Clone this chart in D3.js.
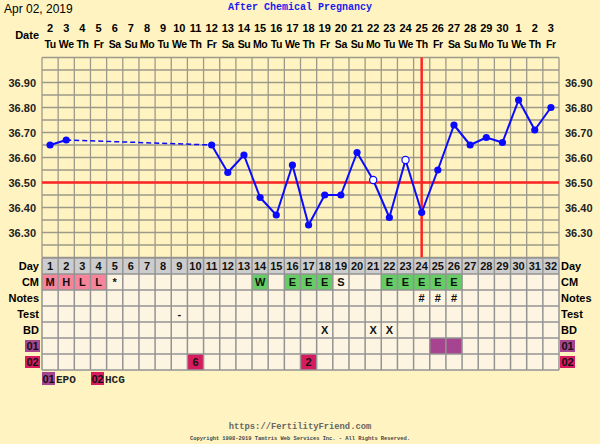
<!DOCTYPE html>
<html>
<head>
<meta charset="utf-8">
<script src="https://cdn.jsdelivr.net/npm/d3@7"></script>
<style>
  html, body { margin: 0; padding: 0; background: #fff4c1; }
  svg { display: block; }
</style>
</head>
<body>
<div id="chart"></div>
<script>
// chart values
const chartDate = "Apr 02, 2019";
const chartTitle = "After Chemical Pregnancy";
const cycleDays = d3.range(1, 33);
const dates = [2,3,4,5,6,7,8,9,10,11,12,13,14,15,16,17,18,19,20,21,22,23,24,25,26,27,28,29,30,1,2,3];
const weekdays = ["Tu","We","Th","Fr","Sa","Su","Mo","Tu","We","Th","Fr","Sa","Su","Mo","Tu","We","Th","Fr","Sa","Su","Mo","Tu","We","Th","Fr","Sa","Su","Mo","Tu","We","Th","Fr"];
const temps = [36.65,36.67,null,null,null,null,null,null,null,null,
               36.65,36.54,36.61,36.44,36.37,36.57,36.33,36.45,36.45,36.62,
               36.51,36.36,36.59,36.38,36.55,36.73,36.65,36.68,36.66,36.83,36.71,36.80];
const openDays = [21, 23];
const yTicks = [36.30,36.40,36.50,36.60,36.70,36.80,36.90];
const coverline = 36.50;
const ovulationDay = 24;

const rowNames = ["Day","CM","Notes","Test","BD","01","02"];
const cmMarks = [
  {day:1,text:"M",kind:"fertile"},{day:2,text:"H",kind:"fertile"},{day:3,text:"L",kind:"fertile"},{day:4,text:"L",kind:"fertile"},
  {day:5,text:"*",kind:""},{day:14,text:"W",kind:"egg"},{day:16,text:"E",kind:"egg"},{day:17,text:"E",kind:"egg"},
  {day:18,text:"E",kind:"egg"},{day:19,text:"S",kind:""},{day:22,text:"E",kind:"egg"},{day:23,text:"E",kind:"egg"},
  {day:24,text:"E",kind:"egg"},{day:25,text:"E",kind:"egg"},{day:26,text:"E",kind:"egg"}
];
const noteMarks = [{day:24,text:"#"},{day:25,text:"#"},{day:26,text:"#"}];
const testMarks = [{day:9,text:"-"}];
const bdMarks = [{day:18,text:"X"},{day:21,text:"X"},{day:22,text:"X"}];
const med01Marks = [{day:25,text:""},{day:26,text:""}];
const med02Marks = [{day:10,text:"6"},{day:17,text:"2"}];
const legendItems = [{code:"01",name:"EPO"},{code:"02",name:"HCG"}];
const siteUrl = "https://FertilityFriend.com";
const copyright = "Copyright 1998-2019 Tamtris Web Services Inc. - All Rights Reserved.";

(() => {
  const width = 600, height = 444;
  const left = 42, right = 559, top = 57.5, bottom = 257.5;
  const sans = "'Liberation Sans', Arial, sans-serif";
  const mono = "'Liberation Mono', 'Courier New', monospace";
  const kindColor = { fertile: "#f7849b", egg: "#66cc66", m01: "#a6448f", m02: "#d81b5f" };

  const svg = d3.select("#chart").append("svg")
    .attr("width", width).attr("height", height);

  const x = d3.scaleBand().domain(cycleDays).range([left, right]);
  const y = d3.scaleLinear().domain([36.2, 37.0]).range([bottom, top]);
  const cx = d => x(d) + x.bandwidth() / 2;

  // header
  svg.append("text").attr("x", 4).attr("y", 13)
    .style("font", `12px ${sans}`).text(chartDate);
  svg.append("text").attr("x", 300).attr("y", 10).attr("text-anchor", "middle")
    .style("font", `bold 10px ${mono}`).attr("fill", "#1a1aee").text(chartTitle);

  svg.append("text").attr("x", 39).attr("y", 39).attr("text-anchor", "end")
    .style("font", `bold 11px ${sans}`).text("Date");
  svg.append("g").selectAll("text").data(cycleDays).join("text")
    .attr("x", cx).attr("y", 32).attr("text-anchor", "middle")
    .style("font", `bold 11px ${sans}`).text((d, i) => dates[i]);
  svg.append("g").selectAll("text").data(cycleDays).join("text")
    .attr("x", cx).attr("y", 48).attr("text-anchor", "middle")
    .style("font", `bold 10.5px ${sans}`).style("letter-spacing", "-0.4px")
    .text((d, i) => weekdays[i]);

  // temperature grid
  const grid = svg.append("g").attr("stroke", "#9d998a").attr("stroke-width", 1.3);
  grid.selectAll("line.v").data(d3.range(0, 33)).join("line")
    .attr("x1", i => left + i * x.bandwidth()).attr("x2", i => left + i * x.bandwidth())
    .attr("y1", top).attr("y2", bottom);
  grid.selectAll("line.h").data(d3.range(36.2, 37.001, 0.05)).join("line")
    .attr("x1", left).attr("x2", right).attr("y1", d => y(d)).attr("y2", d => y(d));

  const tickFmt = d3.format(".2f");
  svg.append("g").attr("transform", `translate(${left - 3},0)`)
    .call(d3.axisLeft(y).tickValues(yTicks).tickFormat(tickFmt).tickSize(0))
    .call(g => g.select(".domain").remove())
    .selectAll("text").style("font", `bold 11px ${sans}`).attr("fill", "#222");
  svg.append("g").attr("transform", `translate(${right + 3},0)`)
    .call(d3.axisRight(y).tickValues(yTicks).tickFormat(tickFmt).tickSize(0))
    .call(g => g.select(".domain").remove())
    .selectAll("text").style("font", `bold 11px ${sans}`).attr("fill", "#222");

  // coverline and ovulation
  svg.append("line").attr("x1", left).attr("x2", right)
    .attr("y1", y(coverline)).attr("y2", y(coverline))
    .attr("stroke", "#ff2424").attr("stroke-width", 2.5);
  svg.append("line").attr("x1", cx(ovulationDay)).attr("x2", cx(ovulationDay))
    .attr("y1", top).attr("y2", bottom)
    .attr("stroke", "#ff2424").attr("stroke-width", 2.5);

  // temperature line
  const pts = cycleDays.map((d, i) => ({ day: d, temp: temps[i] })).filter(d => d.temp != null);
  const segs = d3.pairs(pts);
  svg.append("g").selectAll("line").data(segs).join("line")
    .attr("x1", d => cx(d[0].day)).attr("y1", d => y(d[0].temp))
    .attr("x2", d => cx(d[1].day)).attr("y2", d => y(d[1].temp))
    .attr("stroke", "#0a0aff").attr("stroke-width", d => d[1].day - d[0].day > 1 ? 1.5 : 2)
    .attr("stroke-dasharray", d => d[1].day - d[0].day > 1 ? "5,3" : null);
  svg.append("g").selectAll("circle").data(pts).join("circle")
    .attr("cx", d => cx(d.day)).attr("cy", d => y(d.temp)).attr("r", 3.6)
    .attr("fill", d => openDays.includes(d.day) ? "#fff" : "#0a0aff")
    .attr("stroke", "#0a0aff").attr("stroke-width", d => openDays.includes(d.day) ? 1.2 : 0);

  // table
  const row = d3.scaleBand().domain(rowNames).range([258, 370]);
  const tbl = svg.append("g");
  rowNames.forEach(r => {
    tbl.append("g").selectAll("rect").data(cycleDays).join("rect")
      .attr("x", d => x(d)).attr("y", row(r))
      .attr("width", x.bandwidth()).attr("height", row.bandwidth())
      .attr("fill", r === "Day" ? "#cdcdcd" : "#fdf5e1");
  });

  const cellRows = [
    { r: "CM", marks: cmMarks },
    { r: "Notes", marks: noteMarks },
    { r: "Test", marks: testMarks },
    { r: "BD", marks: bdMarks },
    { r: "01", marks: med01Marks.map(m => ({ ...m, kind: "m01" })) },
    { r: "02", marks: med02Marks.map(m => ({ ...m, kind: "m02" })) }
  ];
  cellRows.forEach(({ r, marks }) => {
    tbl.append("g").selectAll("rect").data(marks.filter(m => m.kind)).join("rect")
      .attr("x", d => x(d.day)).attr("y", row(r))
      .attr("width", x.bandwidth()).attr("height", row.bandwidth())
      .attr("fill", d => kindColor[d.kind]);
    tbl.append("g").selectAll("text").data(marks).join("text")
      .attr("x", d => cx(d.day)).attr("y", row(r) + row.bandwidth() / 2 + 4)
      .attr("text-anchor", "middle")
      .style("font", `bold 11px ${sans}`).attr("fill", "#111")
      .text(d => d.text);
  });

  tbl.append("g").selectAll("text").data(cycleDays).join("text")
    .attr("x", cx).attr("y", row("Day") + row.bandwidth() / 2 + 4).attr("text-anchor", "middle")
    .style("font", `bold 11px ${sans}`).attr("fill", "#111").text(d => d);

  const tgrid = tbl.append("g").attr("stroke", "#939393").attr("stroke-width", 1.5);
  tgrid.selectAll("line.v").data(d3.range(0, 33)).join("line")
    .attr("x1", i => left + i * x.bandwidth()).attr("x2", i => left + i * x.bandwidth())
    .attr("y1", 258).attr("y2", 370);
  tgrid.selectAll("line.h").data(d3.range(0, 8)).join("line")
    .attr("x1", left).attr("x2", right)
    .attr("y1", i => 258 + i * row.bandwidth()).attr("y2", i => 258 + i * row.bandwidth());

  // row labels both sides
  const badge = (g, code, bx, by, w, h) => {
    g.append("rect").attr("x", bx).attr("y", by).attr("width", w).attr("height", h)
      .attr("fill", code === "01" ? kindColor.m01 : kindColor.m02);
    g.append("text").attr("x", bx + w / 2).attr("y", by + h / 2 + 4).attr("text-anchor", "middle")
      .style("font", `bold 11px ${sans}`).attr("fill", "#111").text(code);
  };
  rowNames.forEach(r => {
    const cy = row(r) + row.bandwidth() / 2;
    if (r === "01" || r === "02") {
      badge(svg, r, 25, cy - 6, 15, 12);
      badge(svg, r, 560, cy - 6, 15, 12);
    } else {
      svg.append("text").attr("x", 39).attr("y", cy + 4).attr("text-anchor", "end")
        .style("font", `bold 11px ${sans}`).text(r);
      svg.append("text").attr("x", 561).attr("y", cy + 4)
        .style("font", `bold 11px ${sans}`).text(r);
    }
  });

  // legend
  legendItems.forEach((it, i) => {
    const lx = 42 + i * 49;
    badge(svg, it.code, lx, 372, 13, 13);
    svg.append("text").attr("x", lx + 14).attr("y", 383)
      .style("font", `bold 11px ${mono}`).attr("fill", "#222").text(it.name);
  });

  // footer
  svg.append("text").attr("x", 300).attr("y", 429).attr("text-anchor", "middle")
    .style("font", `bold 8.8px ${mono}`).attr("fill", "#666").text(siteUrl);
  svg.append("text").attr("x", 300).attr("y", 440).attr("text-anchor", "middle")
    .style("font", `bold 5.4px ${mono}`).attr("fill", "#444").text(copyright);
})();
</script>
</body>
</html>
